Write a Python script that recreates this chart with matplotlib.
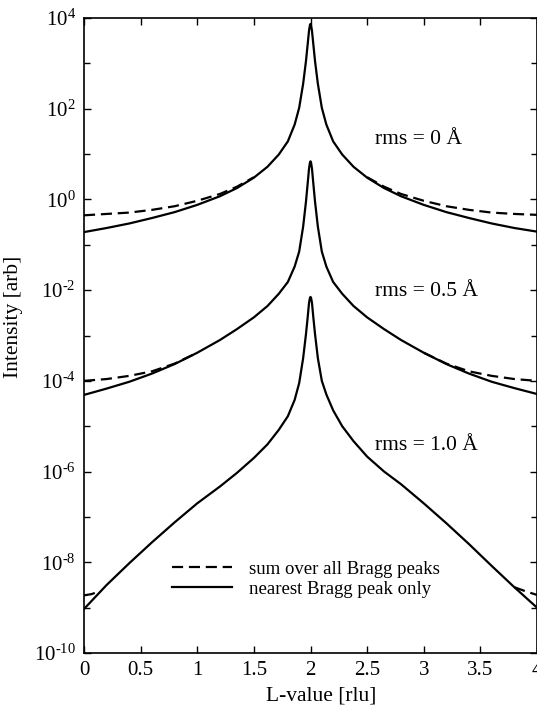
import matplotlib
matplotlib.use("Agg")
import matplotlib.pyplot as plt
import numpy as np

plt.rcParams["font.family"] = ["Liberation Serif", "DejaVu Serif"]
plt.rcParams["mathtext.fontset"] = "custom"
plt.rcParams["mathtext.rm"] = "Liberation Serif"
plt.rcParams["mathtext.it"] = "Liberation Serif:italic"

# L positions of the read-off points (peak at L = 2)
L = [0.0, 0.2, 0.4, 0.6, 0.8, 1.0, 1.2, 1.35, 1.5, 1.62, 1.72, 1.8, 1.86, 1.9,
     1.935, 1.96, 1.975, 1.987, 1.995, 2.0,
     2.005, 2.013, 2.025, 2.04, 2.065, 2.1, 2.14, 2.2, 2.28, 2.38, 2.5, 2.65,
     2.8, 3.0, 3.2, 3.4, 3.6, 3.8, 4.0]

# log10 intensity, nearest Bragg peak only
near_rms0 = [-0.72, -0.63, -0.53, -0.41, -0.28, -0.12, 0.07, 0.25, 0.48, 0.72,
             0.99, 1.28, 1.65, 2.02, 2.55, 3.05, 3.42, 3.72, 3.84, 3.87,
             3.84, 3.72, 3.42, 3.05, 2.55, 2.02, 1.65, 1.28, 0.99, 0.72, 0.48,
             0.25, 0.07, -0.12, -0.28, -0.41, -0.53, -0.63, -0.71]
near_rms05 = [-4.31, -4.17, -4.02, -3.84, -3.63, -3.38, -3.10, -2.86, -2.60,
              -2.35, -2.08, -1.82, -1.48, -1.15, -0.60, -0.05, 0.35, 0.68, 0.81,
              0.84, 0.81, 0.68, 0.35, -0.05, -0.60, -1.15, -1.48, -1.82, -2.08,
              -2.35, -2.60, -2.86, -3.10, -3.38, -3.63, -3.84, -4.02, -4.16, -4.29]
near_rms10 = [-9.03, -8.50, -8.02, -7.56, -7.12, -6.70, -6.33, -6.03, -5.70,
              -5.40, -5.08, -4.78, -4.42, -4.05, -3.50, -2.97, -2.60, -2.28,
              -2.17, -2.15, -2.17, -2.28, -2.60, -2.97, -3.50, -4.00, -4.30,
              -4.65, -5.00, -5.33, -5.67, -6.00, -6.28, -6.70, -7.14, -7.60,
              -8.08, -8.55, -9.00]

# log10 intensity, sum over all Bragg peaks (only where it departs from the above)
sum_L0 = [0.0, 0.2, 0.4, 0.6, 0.8, 1.0, 1.2, 1.35, 1.5, np.nan,
          2.5, 2.65, 2.8, 3.0, 3.2, 3.4, 3.6, 3.8, 4.0]
sum_rms0 = [-0.35, -0.32, -0.29, -0.23, -0.15, -0.03, 0.12, 0.28, 0.49, np.nan,
            0.49, 0.28, 0.12, -0.03, -0.15, -0.23, -0.29, -0.32, -0.34]
sum_L05 = [0.0, 0.2, 0.4, 0.6, 0.8, 1.0, np.nan, 3.0, 3.2, 3.4, 3.6, 3.8, 4.0]
sum_rms05 = [-4.0, -3.96, -3.89, -3.79, -3.62, -3.38, np.nan,
             -3.38, -3.62, -3.79, -3.89, -3.96, -4.0]
sum_L10 = [0.0, 0.07, 0.13, np.nan, 3.8, 3.9, 4.0]
sum_rms10 = [-8.73, -8.70, -8.64, np.nan, -8.55, -8.64, -8.72]

labels = ["rms = 0 Å", "rms = 0.5 Å", "rms = 1.0 Å"]
label_y = [1.32, -2.04, -5.43]
ytick_exp = [-10, -8, -6, -4, -2, 0, 2, 4]

fig = plt.figure(figsize=(5.37, 7.06), dpi=100)
ax = fig.add_axes([84 / 537, 53 / 706, 453 / 537, 635 / 706])

lw = 1.6
dash = (0, (5, 2.6))
ax.plot(sum_L0, 10 ** np.array(sum_rms0), color="black", lw=lw, ls=dash,
        label="sum over all Bragg peaks")
ax.plot(L, 10 ** np.array(near_rms0), color="black", lw=lw,
        label="nearest Bragg peak only")
ax.plot(sum_L05, 10 ** np.array(sum_rms05), color="black", lw=lw, ls=dash)
ax.plot(L, 10 ** np.array(near_rms05), color="black", lw=lw)
ax.plot(sum_L10, 10 ** np.array(sum_rms10), color="black", lw=lw, ls=dash)
ax.plot(L, 10 ** np.array(near_rms10), color="black", lw=lw)

for txt, yv in zip(labels, label_y):
    ax.text(2.573, 10 ** yv, txt, fontsize=15.5, ha="left", va="center")

ax.set_yscale("log")
ax.set_xlim(0, 4)
ax.set_ylim(1e-10, 1e4)
ax.set_xticks([0, 0.5, 1, 1.5, 2, 2.5, 3, 3.5, 4])
ax.set_xticklabels(["0", "0.5", "1", "1.5", "2", "2.5", "3", "3.5", "4"])
ax.set_yticks([10.0 ** k for k in ytick_exp])
ax.set_yticklabels([r"$10^{\text{%d}}$" % k for k in ytick_exp])
ax.set_yticks([10.0 ** k for k in range(-9, 4, 2)], minor=True)
ax.yaxis.set_minor_formatter(matplotlib.ticker.NullFormatter())
ax.tick_params(which="both", direction="in", top=True, right=True,
               labelsize=15, width=1.0)
ax.tick_params(which="major", length=5, pad=6)
ax.tick_params(which="minor", length=4)
for s in ax.spines.values():
    s.set_linewidth(1.2)

ax.set_xlabel("L-value [rlu]", fontsize=15.5, labelpad=0)
ax.set_ylabel("Intensity [arb]", fontsize=15.5, labelpad=2)
ax.xaxis.set_label_coords((321 - 84) / 453, -0.052)
ax.yaxis.set_label_coords(-0.135, 0.53)

ax.legend(loc="upper left", bbox_to_anchor=(0.195, 0.145), frameon=False,
          fontsize=13.5, handlelength=3.2, handletextpad=0.9,
          labelspacing=0.15, borderpad=0, borderaxespad=0)

fig.savefig("out.png", dpi=100)
